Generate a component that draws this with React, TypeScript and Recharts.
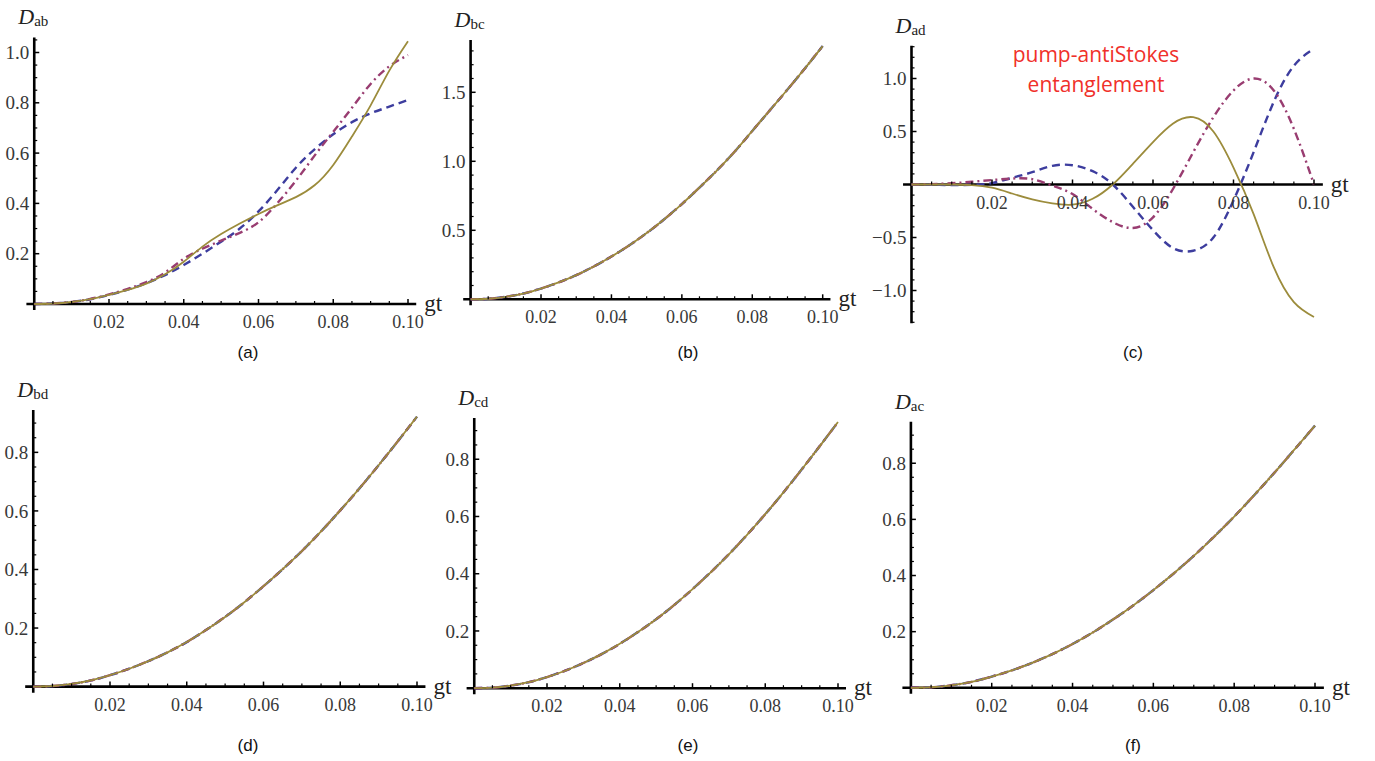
import React from "react";
import { LineChart, Line, XAxis, YAxis, ReferenceLine, ReferenceDot } from "recharts";

// ---------- data ----------
const gt = [0, 0.005, 0.01, 0.015, 0.02, 0.025, 0.03, 0.035, 0.04, 0.045, 0.05, 0.055, 0.06, 0.065, 0.07, 0.075, 0.08, 0.085, 0.09, 0.095, 0.1];

// (a) D_ab
const abDashed = [0, 0.002, 0.008, 0.019, 0.036, 0.057, 0.083, 0.115, 0.155, 0.2, 0.248, 0.3, 0.368, 0.452, 0.542, 0.615, 0.675, 0.723, 0.758, 0.785, 0.811];
const abDotDash = [0, 0.002, 0.008, 0.02, 0.038, 0.06, 0.087, 0.125, 0.18, 0.22, 0.252, 0.283, 0.325, 0.4, 0.49, 0.59, 0.685, 0.78, 0.875, 0.945, 0.99];
const abSolid = [0, 0.002, 0.008, 0.019, 0.036, 0.056, 0.081, 0.118, 0.168, 0.228, 0.278, 0.32, 0.358, 0.392, 0.425, 0.472, 0.553, 0.666, 0.79, 0.928, 1.045];

// (b) D_bc (three coinciding curves)
const bcValues = [0, 0.004, 0.018, 0.042, 0.078, 0.122, 0.175, 0.238, 0.31, 0.39, 0.48, 0.58, 0.69, 0.81, 0.935, 1.07, 1.22, 1.37, 1.52, 1.675, 1.835];

// (c) D_ad
const adDashed = [0, -0.002, -0.006, -0.003, 0.013, 0.063, 0.116, 0.176, 0.182, 0.126, 0, -0.21, -0.43, -0.6, -0.625, -0.5, -0.15, 0.305, 0.78, 1.12, 1.28];
const adDotDash = [0, 0.004, 0.012, 0.026, 0.042, 0.056, 0.05, -0.01, -0.09, -0.23, -0.355, -0.41, -0.31, -0.04, 0.305, 0.635, 0.887, 1.0, 0.887, 0.525, 0.0];
const adSolid = [0, 0, 0, -0.005, -0.03, -0.085, -0.14, -0.178, -0.19, -0.135, 0, 0.195, 0.4, 0.575, 0.635, 0.5, 0.16, -0.28, -0.78, -1.11, -1.25];

// (d) D_bd, (e) D_cd, (f) D_ac
const bdValues = [0, 0.002, 0.009, 0.021, 0.039, 0.061, 0.087, 0.117, 0.152, 0.193, 0.238, 0.288, 0.343, 0.401, 0.463, 0.53, 0.602, 0.677, 0.756, 0.838, 0.922];
const cdValues = [0, 0.002, 0.009, 0.021, 0.039, 0.061, 0.088, 0.119, 0.155, 0.196, 0.241, 0.291, 0.346, 0.405, 0.468, 0.536, 0.608, 0.684, 0.764, 0.846, 0.93];
const acValues = [0, 0.002, 0.009, 0.021, 0.04, 0.062, 0.089, 0.12, 0.156, 0.197, 0.243, 0.293, 0.348, 0.407, 0.47, 0.538, 0.61, 0.687, 0.767, 0.85, 0.934];

// ticks
const xTicks = [0.02, 0.04, 0.06, 0.08, 0.1];
const xTickLabels = ["0.02", "0.04", "0.06", "0.08", "0.10"];
const xMinorTicks = [0.005, 0.01, 0.015, 0.025, 0.03, 0.035, 0.045, 0.05, 0.055, 0.065, 0.07, 0.075, 0.085, 0.09, 0.095];

const yTicksAb = [0.2, 0.4, 0.6, 0.8, 1.0];
const yLabelsAb = ["0.2", "0.4", "0.6", "0.8", "1.0"];
const yTicksBc = [0.5, 1.0, 1.5];
const yLabelsBc = ["0.5", "1.0", "1.5"];
const yTicksAd = [-1.0, -0.5, 0.5, 1.0];
const yLabelsAd = ["\u22121.0", "\u22120.5", "0.5", "1.0"];
const yTicksSmall = [0.2, 0.4, 0.6, 0.8];
const yLabelsSmall = ["0.2", "0.4", "0.6", "0.8"];

// ---------- styles ----------
const BLUE = "#3d3d9e";
const PURPLE = "#993d71";
const OLIVE = "#9c8c3c";
const SERIF = "'Liberation Serif', 'DejaVu Serif', serif";
const SANS = "'Liberation Sans', Arial, sans-serif";

type Spec = {
  sub: string;
  dashed: number[];
  dotdash: number[];
  solid: number[];
  yTicks: number[];
  yLabels: string[];
  yMinor: number;
  yLo: number;
  yHi: number;
  ox: number;
  sx: number;
  oy: number;
  sy: number;
  curve: "monotone" | "natural";
};

const tickText: React.CSSProperties = { fontFamily: SERIF, fill: "#383838" };

function Panel({ s }: { s: Spec }) {
  const xLo = -0.0021;
  const xHi = 0.1022;
  const plotLeft = s.ox + xLo * s.sx;
  const plotRight = s.ox + xHi * s.sx;
  const plotTop = s.oy - s.yHi * s.sy;
  const plotBottom = s.oy - s.yLo * s.sy;
  const left = Math.round(plotLeft - 55);
  const top = Math.round(plotTop - 45);
  const width = Math.round(plotRight - left + 55);
  const height = Math.round(plotBottom - top + 45);
  const margin = {
    left: plotLeft - left,
    top: plotTop - top,
    right: width - (plotRight - left),
    bottom: height - (plotBottom - top),
  };
  const rows = gt.map((t, i) => ({ t, dashed: s.dashed[i], dotdash: s.dotdash[i], solid: s.solid[i] }));

  const yMinorTicks: number[] = [];
  const startK = Math.ceil((s.yLo + 1e-9) / s.yMinor);
  const endK = Math.floor((s.yHi - 1e-9) / s.yMinor);
  for (let k = startK; k <= endK; k++) {
    const v = +(k * s.yMinor).toFixed(4);
    if (v === 0) continue;
    if (s.yTicks.some((m) => Math.abs(m - v) < 1e-6)) continue;
    yMinorTicks.push(v);
  }

  return (
    <div style={{ position: "absolute", left, top }}>
      <LineChart width={width} height={height} data={rows} margin={margin}>
        <XAxis type="number" dataKey="t" domain={[xLo, xHi]} hide allowDataOverflow />
        <YAxis type="number" domain={[s.yLo, s.yHi]} hide allowDataOverflow />
        <ReferenceLine
          segment={[{ x: xLo, y: 0 }, { x: xHi, y: 0 }]}
          stroke="#000"
          strokeWidth={2.6}
          ifOverflow="visible"
        />
        <ReferenceLine
          segment={[{ x: 0, y: s.yLo }, { x: 0, y: s.yHi }]}
          stroke="#000"
          strokeWidth={2.6}
          ifOverflow="visible"
        />
        {xMinorTicks.map((t) => (
          <ReferenceDot
            key={"xm" + t}
            x={t}
            y={0}
            r={0}
            ifOverflow="visible"
            shape={(p: any) => <line x1={p.cx} y1={p.cy} x2={p.cx} y2={p.cy - 3} stroke="#000" strokeWidth={1.2} />}
          />
        ))}
        {xTicks.map((t, i) => (
          <ReferenceDot
            key={"xt" + t}
            x={t}
            y={0}
            r={0}
            ifOverflow="visible"
            shape={(p: any) => (
              <g>
                <line x1={p.cx} y1={p.cy} x2={p.cx} y2={p.cy - 5} stroke="#000" strokeWidth={1.5} />
                <text x={p.cx} y={p.cy + 24} textAnchor="middle" style={{ ...tickText, fontSize: 18 }}>
                  {xTickLabels[i]}
                </text>
              </g>
            )}
          />
        ))}
        {yMinorTicks.map((v) => (
          <ReferenceDot
            key={"ym" + v}
            x={0}
            y={v}
            r={0}
            ifOverflow="visible"
            shape={(p: any) => <line x1={p.cx} y1={p.cy} x2={p.cx + 3} y2={p.cy} stroke="#000" strokeWidth={1.2} />}
          />
        ))}
        {s.yTicks.map((v, i) => (
          <ReferenceDot
            key={"yt" + v}
            x={0}
            y={v}
            r={0}
            ifOverflow="visible"
            shape={(p: any) => (
              <g>
                <line x1={p.cx} y1={p.cy} x2={p.cx + 5} y2={p.cy} stroke="#000" strokeWidth={1.5} />
                <text x={p.cx - 5} y={p.cy} dy="0.35em" textAnchor="end" style={{ ...tickText, fontSize: 19 }}>
                  {s.yLabels[i]}
                </text>
              </g>
            )}
          />
        ))}
        <ReferenceDot
          x={xHi}
          y={0}
          r={0}
          ifOverflow="visible"
          shape={(p: any) => (
            <text x={p.cx + 8} y={p.cy + 7} style={{ fontFamily: SERIF, fontSize: 23, fill: "#222" }}>
              gt
            </text>
          )}
        />
        <ReferenceDot
          x={0}
          y={s.yHi}
          r={0}
          ifOverflow="visible"
          shape={(p: any) => (
            <text x={p.cx - 16} y={p.cy - 13} style={{ fontFamily: SERIF, fill: "#222" }}>
              <tspan style={{ fontStyle: "italic", fontSize: 22 }}>D</tspan>
              <tspan style={{ fontSize: 15 }} dy={2}>{s.sub}</tspan>
            </text>
          )}
        />
        <Line type={s.curve} dataKey="dashed" stroke={BLUE} strokeWidth={2.4} strokeDasharray="8 5" dot={false} isAnimationActive={false} />
        <Line type={s.curve} dataKey="dotdash" stroke={PURPLE} strokeWidth={2.4} strokeDasharray="8 4 2 4" dot={false} isAnimationActive={false} />
        <Line type={s.curve} dataKey="solid" stroke={OLIVE} strokeWidth={1.8} dot={false} isAnimationActive={false} />
      </LineChart>
    </div>
  );
}

const panels: Spec[] = [
  { sub: "ab", dashed: abDashed, dotdash: abDotDash, solid: abSolid, yTicks: yTicksAb, yLabels: yLabelsAb, yMinor: 0.05, yLo: -0.024, yHi: 1.06, ox: 34.25, sx: 3737.5, oy: 304, sy: 251.5, curve: "natural" },
  { sub: "bc", dashed: bcValues, dotdash: bcValues, solid: bcValues, yTicks: yTicksBc, yLabels: yLabelsBc, yMinor: 0.1, yLo: -0.044, yHi: 1.879, ox: 470.6, sx: 3521, oy: 299.3, sy: 138, curve: "monotone" },
  { sub: "ad", dashed: adDashed, dotdash: adDotDash, solid: adSolid, yTicks: yTicksAd, yLabels: yLabelsAd, yMinor: 0.1, yLo: -1.31, yHi: 1.31, ox: 911.5, sx: 4025, oy: 184.5, sy: 106, curve: "natural" },
  { sub: "bd", dashed: bdValues, dotdash: bdValues, solid: bdValues, yTicks: yTicksSmall, yLabels: yLabelsSmall, yMinor: 0.05, yLo: -0.021, yHi: 0.945, ox: 33.25, sx: 3837.5, oy: 686.6, sy: 292.8, curve: "monotone" },
  { sub: "cd", dashed: cdValues, dotdash: cdValues, solid: cdValues, yTicks: yTicksSmall, yLabels: yLabelsSmall, yMinor: 0.05, yLo: -0.021, yHi: 0.944, ox: 474.25, sx: 3637.5, oy: 688.2, sy: 286.2, curve: "monotone" },
  { sub: "ac", dashed: acValues, dotdash: acValues, solid: acValues, yTicks: yTicksSmall, yLabels: yLabelsSmall, yMinor: 0.05, yLo: -0.021, yHi: 0.948, ox: 910.9, sx: 4041, oy: 687.8, sy: 280.7, curve: "monotone" },
];

const captions = ["(a)", "(b)", "(c)", "(d)", "(e)", "(f)"];
const captionX = [248, 688, 1133, 248, 688, 1133];
const captionY = [358, 358, 358, 751, 751, 751];

export default function App() {
  return (
    <div style={{ position: "absolute", left: 0, top: 0, width: 1375, height: 761, background: "#fff", overflow: "hidden" }}>
      {panels.map((s) => (
        <Panel key={s.sub} s={s} />
      ))}
      <svg width={1375} height={761} style={{ position: "absolute", left: 0, top: 0, pointerEvents: "none" }}>
        {captions.map((c, i) => (
          <text key={c} x={captionX[i]} y={captionY[i]} textAnchor="middle" style={{ fontFamily: SANS, fontSize: 17, fill: "#111" }}>
            {c}
          </text>
        ))}
        <text x={1096} y={62} textAnchor="middle" style={{ fontFamily: "'Open Sans', sans-serif", fontSize: 21, fill: "#f0302a" }}>
          pump-antiStokes
        </text>
        <text x={1096} y={92} textAnchor="middle" style={{ fontFamily: "'Open Sans', sans-serif", fontSize: 21, fill: "#f0302a" }}>
          entanglement
        </text>
      </svg>
    </div>
  );
}
